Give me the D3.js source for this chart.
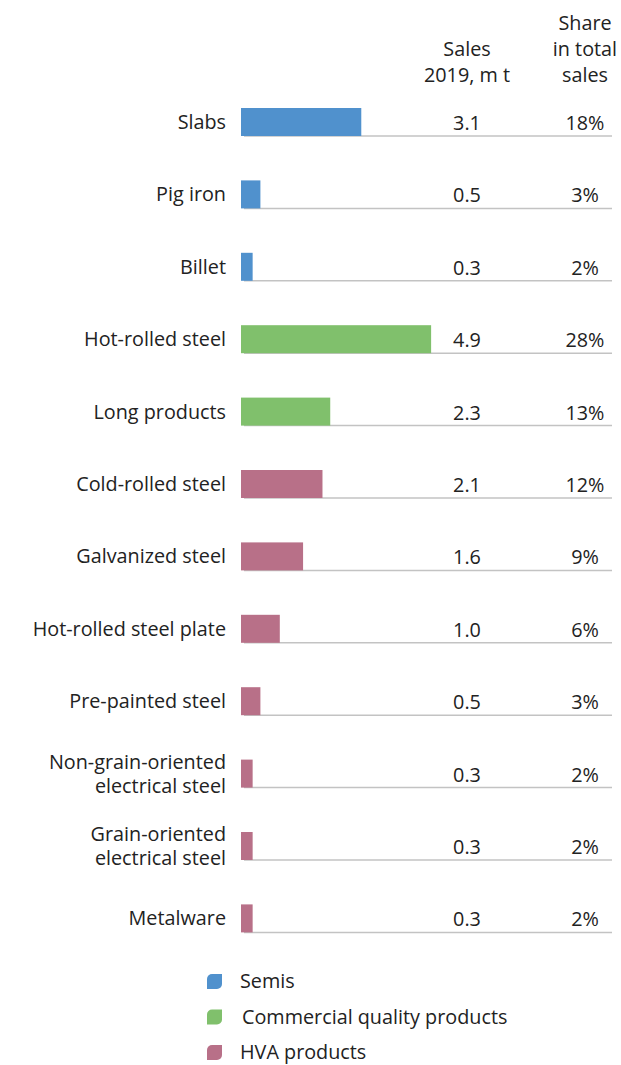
<!DOCTYPE html>
<html>
<head>
<meta charset="utf-8">
<script src="https://cdn.jsdelivr.net/npm/d3@7"></script>
<style>
  body { margin: 0; background: #fff; }
  text { font-family: "Open Sans", "Lato", sans-serif; fill: #222; }
</style>
</head>
<body>
<div id="chart"></div>
<script>
var width = 621, height = 1065;

// data
var products = ["Slabs", "Pig iron", "Billet", "Hot-rolled steel", "Long products",
  "Cold-rolled steel", "Galvanized steel", "Hot-rolled steel plate", "Pre-painted steel",
  "Non-grain-oriented\nelectrical steel", "Grain-oriented\nelectrical steel", "Metalware"];
var sales = [3.1, 0.5, 0.3, 4.9, 2.3, 2.1, 1.6, 1.0, 0.5, 0.3, 0.3, 0.3];
var shares = [18, 3, 2, 28, 13, 12, 9, 6, 3, 2, 2, 2];
var groups = ["Semis", "Semis", "Semis", "Commercial quality products", "Commercial quality products",
  "HVA products", "HVA products", "HVA products", "HVA products", "HVA products", "HVA products", "HVA products"];
var legendItems = ["Semis", "Commercial quality products", "HVA products"];
var salesHeader = ["Sales", "2019, m t"];
var shareHeader = ["Share", "in total", "sales"];

var color = d3.scaleOrdinal()
  .domain(legendItems)
  .range(["#5091cd", "#80c06c", "#b87088"]);

var fs = "19.8px";
var x = d3.scaleLinear().domain([0, 5]).range([241, 435]);
var y = d3.scaleBand().domain(products).range([63.6, 932.4]).paddingInner(0);
var barH = 28;
var colSales = 467, colShare = 585, lineEnd = 612;

var svg = d3.select("#chart").append("svg")
  .attr("width", width)
  .attr("height", height)
  .style("display", "block");

// column headers
svg.append("g").selectAll("text")
  .data(salesHeader)
  .enter().append("text")
  .attr("x", colSales)
  .attr("y", function(d, i) { return 56 + i * 26; })
  .attr("text-anchor", "middle")
  .style("font-size", fs)
  .text(function(d) { return d; });

svg.append("g").selectAll("text")
  .data(shareHeader)
  .enter().append("text")
  .attr("x", colShare)
  .attr("y", function(d, i) { return 30 + i * 26; })
  .attr("text-anchor", "middle")
  .style("font-size", fs)
  .text(function(d) { return d; });

var rows = svg.append("g").selectAll("g")
  .data(products)
  .enter().append("g");

// baseline rule under each row
rows.append("line")
  .attr("x1", x(0) + 3)
  .attr("x2", lineEnd)
  .attr("y1", function(d) { return y(d) + y.bandwidth(); })
  .attr("y2", function(d) { return y(d) + y.bandwidth(); })
  .style("stroke", "#c3c3c3")
  .style("stroke-width", 1.5);

rows.append("rect")
  .attr("x", x(0))
  .attr("y", function(d) { return y(d) + y.bandwidth() - barH; })
  .attr("width", function(d, i) { return x(sales[i]) - x(0); })
  .attr("height", barH)
  .style("fill", function(d, i) { return color(groups[i]); });

// product labels (some on two lines)
rows.append("text")
  .attr("x", 226)
  .attr("text-anchor", "end")
  .style("font-size", fs)
  .each(function(d) {
    var lines = d.split("\n");
    var cy = y(d) + y.bandwidth() - barH / 2;
    var t = d3.select(this);
    lines.forEach(function(l, k) {
      t.append("tspan")
        .attr("x", 226)
        .attr("y", cy + 7 + (k - (lines.length - 1) / 2) * 24)
        .text(l);
    });
  });

rows.append("text")
  .attr("x", colSales)
  .attr("y", function(d) { return y(d) + y.bandwidth() - barH / 2 + 8; })
  .attr("text-anchor", "middle")
  .style("font-size", fs)
  .text(function(d, i) { return d3.format(".1f")(sales[i]); });

rows.append("text")
  .attr("x", colShare)
  .attr("y", function(d) { return y(d) + y.bandwidth() - barH / 2 + 8; })
  .attr("text-anchor", "middle")
  .style("font-size", fs)
  .text(function(d, i) { return shares[i] + "%"; });

// legend with leaf-shaped markers
var leg = svg.append("g").selectAll("g")
  .data(legendItems)
  .enter().append("g")
  .attr("transform", function(d, i) { return "translate(207," + (974 + i * 35.5) + ")"; });

leg.append("path")
  .attr("d", "M0,0 H10 A5,5 0 0 1 15,5 V15 H5 A5,5 0 0 1 0,10 Z")
  .attr("transform", "translate(15,0) scale(-1,1)")
  .style("fill", function(d) { return color(d); });

leg.append("text")
  .attr("x", function(d, i) { return i == 1 ? 35 : 33; })
  .attr("y", 14)
  .style("font-size", fs)
  .text(function(d) { return d; });
</script>
</body>
</html>
